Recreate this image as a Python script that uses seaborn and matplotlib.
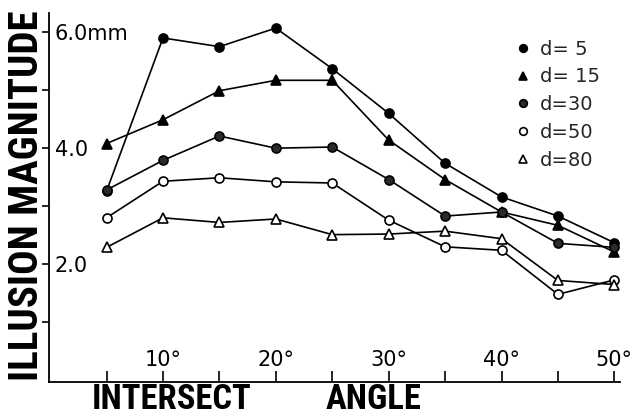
import matplotlib as mpl
import matplotlib.pyplot as plt
import pandas as pd
import seaborn as sns
from matplotlib import font_manager
from matplotlib.lines import Line2D

# data
angles = [5, 10, 15, 20, 25, 30, 35, 40, 45, 50]
d5 = [3.26, 5.90, 5.75, 6.07, 5.37, 4.60, 3.74, 3.16, 2.83, 2.37]
d15 = [4.08, 4.49, 4.99, 5.17, 5.17, 4.14, 3.46, 2.90, 2.67, 2.21]
d30 = [3.28, 3.79, 4.21, 4.00, 4.02, 3.46, 2.83, 2.90, 2.36, 2.29]
d50 = [2.80, 3.43, 3.49, 3.42, 3.40, 2.76, 2.30, 2.24, 1.48, 1.73]
d80 = [2.29, 2.80, 2.72, 2.78, 2.51, 2.52, 2.57, 2.44, 1.72, 1.65]

series_labels = ["d= 5", "d= 15", "d=30", "d=50", "d=80"]
y_ticks = [1, 2, 3, 4, 5, 6]
y_ticklabels = ["", "2.0", "", "4.0", "", "6.0mm"]
x_ticks = [5, 10, 15, 20, 25, 30, 35, 40, 45, 50]
x_ticklabels = ["", "10°", "", "20°", "", "30°", "", "40°", "", "50°"]

df = pd.DataFrame({"angle": angles, "d= 5": d5, "d= 15": d15,
                   "d=30": d30, "d=50": d50, "d=80": d80})
df = df.melt(id_vars="angle", var_name="d", value_name="magnitude")

sns.set_theme(style="white")
mpl.rcParams["font.family"] = ["DejaVu Sans"]

# narrowest bold family we can find for the big axis captions
installed = {f.name for f in font_manager.fontManager.ttflist}
narrow = "DejaVu Sans"
for cand in ["Liberation Sans Narrow", "Roboto Condensed", "DejaVu Sans Condensed",
             "Open Sans Condensed", "Roboto", "Liberation Sans"]:
    if cand in installed:
        narrow = cand
        break

# marker, facecolor per series
styles = {
    "d= 5": ("o", "black"),
    "d= 15": ("^", "black"),
    "d=30": ("o", "#2a2a2a"),
    "d=50": ("o", "white"),
    "d=80": ("^", "white"),
}

fig = plt.figure(figsize=(6.4, 4.17), dpi=100)
ax = fig.add_axes([49 / 640, 1 - 382 / 417, 571 / 640, 369 / 417])

for lab in series_labels:
    m, fc = styles[lab]
    sub = df[df["d"] == lab]
    sns.lineplot(data=sub, x="angle", y="magnitude", ax=ax, color="black",
                 lw=1.2, marker=m, markersize=6.5, markerfacecolor=fc,
                 markeredgecolor="black", markeredgewidth=1.2, legend=False)

ax.set_xlim(-0.1, 50.5)
ax.set_ylim(-0.03, 6.33)
sns.despine(ax=ax)
for s in ["left", "bottom"]:
    ax.spines[s].set_color("black")
    ax.spines[s].set_linewidth(1.3)

ax.set_yticks(y_ticks)
ax.set_yticklabels(y_ticklabels)
ax.tick_params(axis="y", direction="out", length=5, width=1.2, color="black",
               pad=-9, labelsize=15, labelcolor="black", left=True)
for t in ax.get_yticklabels():
    t.set_horizontalalignment("left")

ax.set_xticks(x_ticks)
ax.set_xticklabels(x_ticklabels)
ax.tick_params(axis="x", direction="in", length=8, width=1.2, color="black",
               pad=-9, labelsize=15, labelcolor="black", bottom=True)
for t in ax.get_xticklabels():
    t.set_verticalalignment("bottom")

ax.set_xlabel("")
ax.set_ylabel("")

ylab = fig.text(27 / 640, 1 - 196 / 417, "ILLUSION MAGNITUDE", rotation=90,
                ha="center", va="center", fontsize=30, fontweight="bold",
                family=narrow, color="black")
xlab1 = fig.text(92 / 640, 1 / 417, "INTERSECT", ha="left", va="bottom",
                 fontsize=28, fontweight="bold", family=narrow, color="black")
xlab2 = fig.text(326 / 640, 1 / 417, "ANGLE", ha="left", va="bottom",
                 fontsize=28, fontweight="bold", family=narrow, color="black")

# shrink the captions so they span the same length as in the scan,
# keeping the bottom ones between the x axis and the figure edge
fig.canvas.draw()
r = fig.canvas.get_renderer()
for txt, target, use_h in [(ylab, 370, True), (xlab1, 185, False), (xlab2, 111, False)]:
    bb = txt.get_window_extent(r)
    span = bb.height if use_h else bb.width
    size = txt.get_fontsize() * target / span
    if not use_h:
        size = min(size, txt.get_fontsize() * 33 / bb.height)
    txt.set_fontsize(min(size, 32))

handles = []
for lab in series_labels:
    m, fc = styles[lab]
    handles.append(Line2D([], [], linestyle="none", marker=m, markersize=5.5,
                          markerfacecolor=fc, markeredgecolor="black",
                          markeredgewidth=1.2))
ax.legend(handles, series_labels, loc="upper left",
          bbox_to_anchor=(505 / 640, 1 - 30 / 417), bbox_transform=fig.transFigure,
          frameon=False, fontsize=14, handlelength=0.8, handletextpad=0.5,
          labelspacing=0.45, borderpad=0)

fig.savefig("out.png", dpi=100)
